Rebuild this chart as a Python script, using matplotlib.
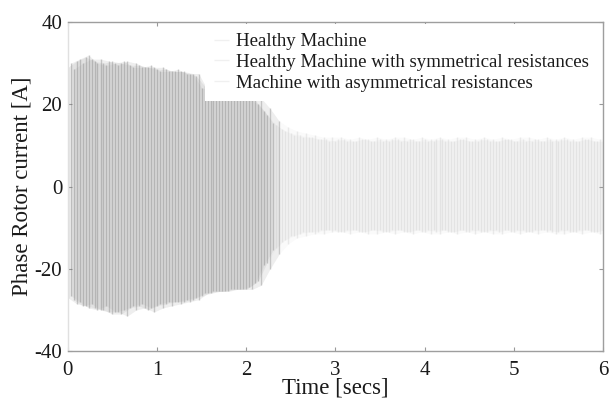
"""Phase rotor current during start-up: healthy vs. symmetric / asymmetric
rotor resistances (scanned-style dense oscillation)."""

import numpy as np
import matplotlib

matplotlib.use("Agg")
import matplotlib.pyplot as plt

plt.rcParams["font.family"] = ["Liberation Serif", "DejaVu Serif"]
plt.rcParams["axes.unicode_minus"] = False

# sample times of the peak envelopes (s), one grid per series
time_healthy = np.round(np.arange(61) * 0.1, 3)
time_sym = time_healthy + 0.033
time_asym = time_healthy + 0.067

# positive / negative current peaks (A), read every 0.1 s
healthy_up = [29.0, 30.5, 31.5, 30.5, 30.0, 30.5, 30.0, 29.5, 29.5, 29.0,
              28.5, 28.5, 28.0, 28.0, 27.5, 24.0, 23.5, 23.0, 22.5, 22.5,
              22.0, 21.0, 18.5, 15.5, 14.0, 13.0, 12.5, 12.0, 11.5, 11.5,
              11.0, 11.5, 11.0, 11.5, 11.0, 11.5, 11.0, 11.5, 11.0, 11.0,
              11.5, 11.0, 11.5, 11.0, 11.5, 11.0, 11.0, 11.5, 11.0, 11.5,
              11.0, 11.5, 11.0, 11.0, 11.5, 11.0, 11.5, 11.0, 11.5, 11.0,
              11.0]
healthy_lo = [-27.0, -28.5, -29.0, -29.5, -30.0, -31.0, -31.0, -29.5, -29.0, -30.0,
              -29.0, -28.5, -28.0, -28.0, -27.5, -26.5, -26.0, -25.5, -25.5, -25.0,
              -25.0, -23.5, -19.0, -15.5, -13.5, -12.0, -11.5, -11.0, -11.0, -10.5,
              -10.5, -11.0, -10.5, -11.0, -10.5, -10.5, -11.0, -10.5, -11.0, -10.5,
              -11.0, -10.5, -10.5, -11.0, -10.5, -11.0, -10.5, -11.0, -10.5, -10.5,
              -11.0, -10.5, -11.0, -10.5, -10.5, -11.0, -10.5, -11.0, -10.5, -11.0,
              -10.5]

sym_up = [30.0, 31.0, 32.0, 30.0, 29.5, 30.0, 30.5, 29.0, 29.0, 29.5,
          28.0, 28.0, 28.5, 27.5, 27.0, 24.5, 23.0, 23.0, 22.0, 22.0,
          21.5, 20.0, 17.5, 15.0, 13.5, 12.5, 12.0, 12.0, 11.5, 11.0,
          11.5, 11.0, 11.0, 11.5, 11.0, 11.0, 11.5, 11.0, 11.5, 11.0,
          11.0, 11.5, 11.0, 11.0, 11.5, 11.0, 11.5, 11.0, 11.0, 11.5,
          11.0, 11.0, 11.5, 11.0, 11.0, 11.5, 11.0, 11.0, 11.5, 11.0,
          11.0]
sym_lo = [-26.5, -28.0, -29.5, -30.0, -29.0, -30.5, -30.0, -29.0, -28.5, -29.5,
          -28.5, -28.0, -28.0, -27.5, -27.0, -26.0, -25.5, -25.5, -25.0, -25.0,
          -24.5, -23.0, -18.5, -15.0, -13.0, -12.0, -11.0, -11.0, -10.5, -10.5,
          -11.0, -10.5, -10.5, -11.0, -10.5, -11.0, -10.5, -10.5, -11.0, -10.5,
          -10.5, -11.0, -10.5, -11.0, -10.5, -10.5, -11.0, -10.5, -11.0, -10.5,
          -10.5, -11.0, -10.5, -10.5, -11.0, -10.5, -11.0, -10.5, -10.5, -11.0,
          -10.5]

asym_up = [28.5, 30.0, 31.0, 31.0, 30.5, 29.5, 30.5, 30.0, 29.0, 29.0,
           29.0, 28.0, 28.0, 27.5, 27.5, 23.5, 23.5, 22.5, 22.5, 22.0,
           21.5, 21.5, 19.0, 16.0, 14.5, 13.5, 13.0, 12.5, 12.0, 12.0,
           12.0, 11.5, 12.0, 11.5, 12.0, 11.5, 12.0, 12.0, 11.5, 12.0,
           11.5, 12.0, 11.5, 12.0, 12.0, 11.5, 12.0, 11.5, 12.0, 11.5,
           12.0, 12.0, 11.5, 12.0, 11.5, 12.0, 11.5, 12.0, 12.0, 11.5,
           12.0]
asym_lo = [-27.5, -29.0, -28.5, -30.0, -30.5, -30.5, -31.5, -30.0, -29.5, -30.5,
           -29.5, -29.0, -28.5, -28.0, -27.5, -26.0, -25.5, -25.5, -25.0, -25.0,
           -25.0, -24.0, -20.0, -16.5, -14.0, -12.5, -12.0, -11.5, -11.5, -11.0,
           -11.0, -11.5, -11.0, -11.5, -11.5, -11.0, -11.5, -11.0, -11.5, -11.0,
           -11.5, -11.5, -11.0, -11.5, -11.0, -11.5, -11.0, -11.5, -11.5, -11.0,
           -11.5, -11.0, -11.5, -11.0, -11.5, -11.5, -11.0, -11.5, -11.0, -11.5,
           -11.0]

labels = ["Healthy Machine",
          "Healthy Machine with symmetrical resistances",
          "Machine with asymmetrical resistances"]
x_ticks = [0, 1, 2, 3, 4, 5, 6]
y_ticks = [-40, -20, 0, 20, 40]


def main():
    fig, ax = plt.subplots(figsize=(6.16, 4.03), dpi=100)
    fig.subplots_adjust(left=0.110, right=0.979, top=0.945, bottom=0.129)

    series = [(time_healthy, healthy_up, healthy_lo),
              (time_sym, sym_up, sym_lo),
              (time_asym, asym_up, asym_lo)]
    for (t, up, lo), name in zip(series, labels):
        up = np.asarray(up)
        lo = np.asarray(lo)
        big = (up - lo) > 30
        # faint body of the oscillation, darker while the rotor accelerates
        ax.fill_between(t, lo, up, color="0.9", alpha=0.2, lw=0)
        ax.fill_between(t, lo, up, where=big, color="0.6", alpha=0.12, lw=0)
        shade = np.where(big, "0.4", "0.72")
        alphas = np.where(big, 0.3, 0.25)
        ax.vlines(t, lo, up, colors=shade, lw=1.0, alpha=alphas, label=name)

    ax.set_xlim(0, 6)
    ax.set_ylim(-40, 40)
    ax.set_xticks(x_ticks)
    ax.set_yticks(y_ticks)
    ax.tick_params(direction="in", length=3, color="0.6", labelsize=15,
                   labelcolor="0.1", pad=4, top=True, right=True)
    ax.tick_params(axis="x", pad=7)
    for side, sp in ax.spines.items():
        sp.set_color("0.88" if side == "left" else "0.62")
        sp.set_linewidth(1.0)

    ax.set_xlabel("Time [secs]", fontsize=16.5, color="0.1")
    ax.xaxis.set_label_coords(0.5, -0.082)
    ax.set_ylabel("Phase Rotor current [A]", fontsize=16.5, color="0.1")
    ax.yaxis.set_label_coords(-0.066, 0.5)

    leg = ax.legend(loc="upper left", bbox_to_anchor=(0.256, 0.0, 0.744, 0.995),
                    mode="expand", fontsize=13.6, frameon=True, fancybox=False,
                    framealpha=1.0, facecolor="white", edgecolor="none",
                    borderaxespad=0.0, borderpad=0.5, handlelength=0.8,
                    handletextpad=0.35, labelspacing=0.18)
    leg.set_zorder(2.4)
    for h in leg.legend_handles:
        h.set_color("0.94")
        h.set_alpha(1.0)
    for txt in leg.get_texts():
        txt.set_color("0.1")

    fig.savefig("out.png", dpi=100)


if __name__ == "__main__":
    main()
